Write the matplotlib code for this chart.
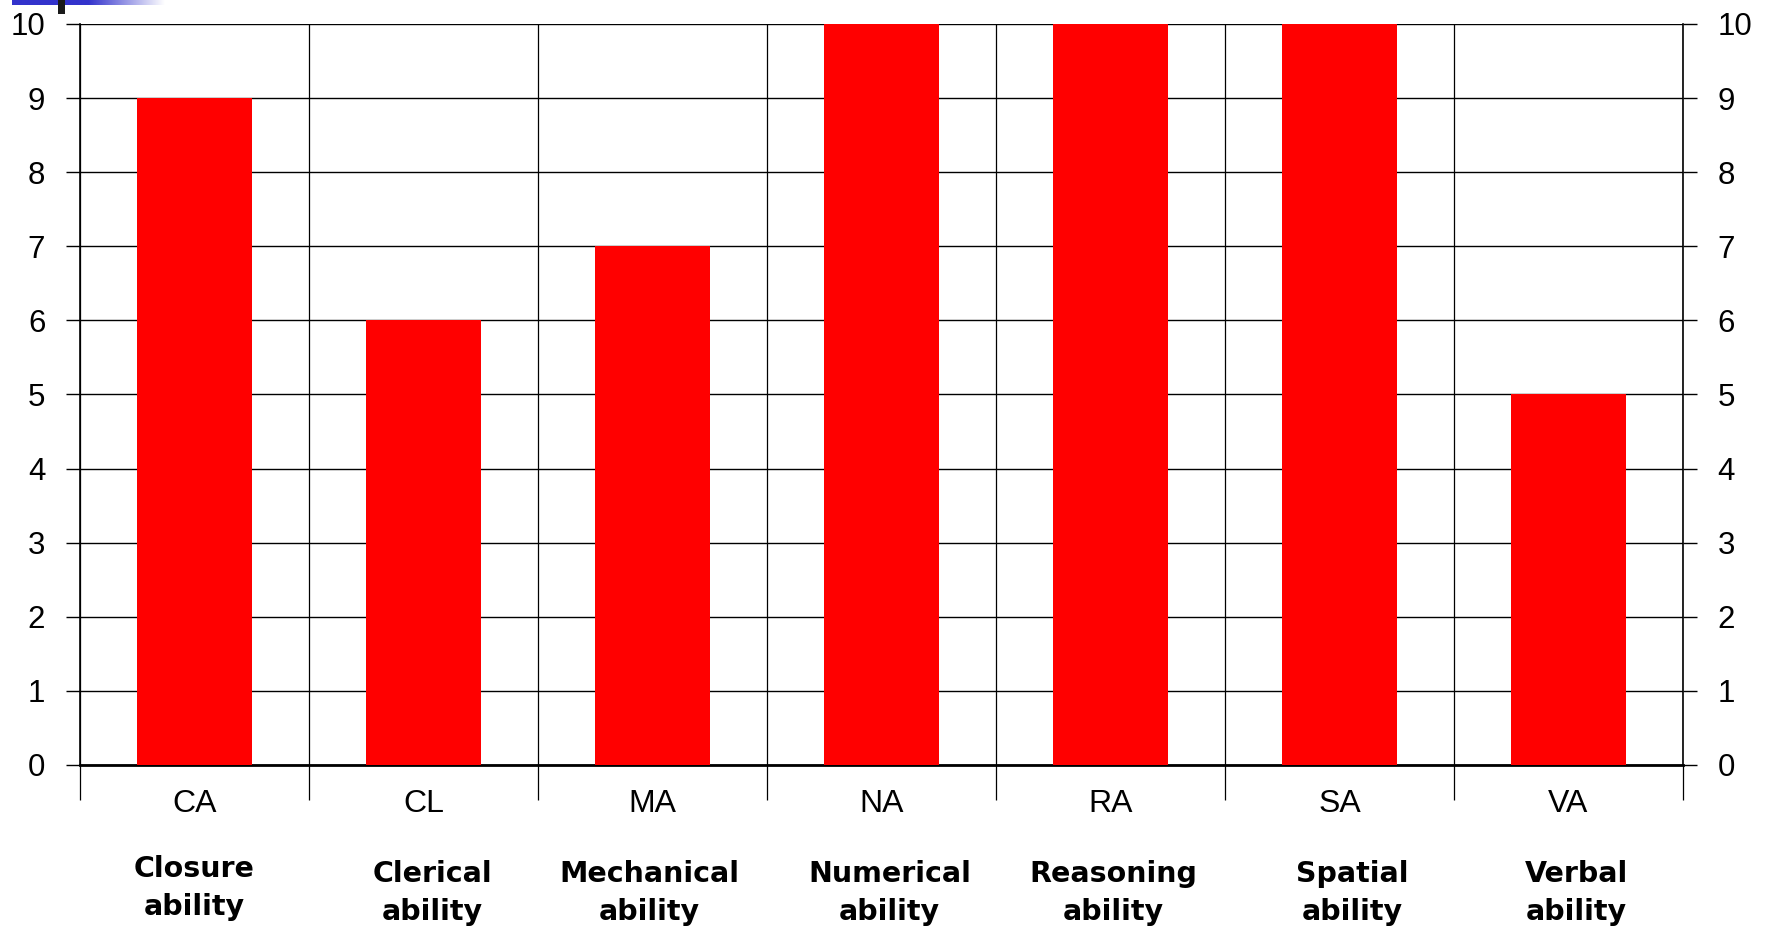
import matplotlib
matplotlib.use("Agg")
import matplotlib.pyplot as plt
import numpy as np
from matplotlib.ticker import FixedLocator
import matplotlib.transforms as mtransforms

codes = ["CA", "CL", "MA", "NA", "RA", "SA", "VA"]
names = ["Closure\nability", "Clerical\nability", "Mechanical\nability",
         "Numerical\nability", "Reasoning\nability", "Spatial\nability", "Verbal\nability"]
scores = [9, 6, 7, 10, 10, 10, 5]
yticks = list(range(0, 11))

W, H = 1767, 927
fig = plt.figure(figsize=(W / 100, H / 100), dpi=100)
ax = fig.add_axes([80 / W, 1 - 765 / H, (1683 - 80) / W, (765 - 24) / H])

x = np.arange(len(codes))
ax.bar(x, scores, width=0.5, color="#ff0000", zorder=3)
ax.set_xlim(-0.5, len(codes) - 0.5)
ax.set_ylim(0, 10)

# gridlines
ax.set_yticks(yticks)
ax.yaxis.grid(True, color="black", linewidth=1.0, zorder=1)
bounds = np.arange(-0.5, len(codes), 1.0)
ax.xaxis.set_minor_locator(FixedLocator(bounds))
ax.xaxis.grid(True, which="minor", color="black", linewidth=0.9, zorder=1)
ax.set_axisbelow(True)

ax.set_xticks(x)
ax.set_xticklabels(codes, fontsize=23, family="Liberation Sans")
ax.tick_params(axis="x", which="major", length=0, pad=17)
ax.tick_params(axis="x", which="minor", length=25, width=0.9, color="black")
ax.tick_params(axis="y", length=10, width=1.0, pad=15, labelsize=22.5,
               left=True, right=True, labelleft=True, labelright=True)
for lab in ax.yaxis.get_majorticklabels():
    lab.set_family("Liberation Sans")
for t in ax.yaxis.get_major_ticks():
    t.label2.set_family("Liberation Sans")

for s in ["left", "right"]:
    ax.spines[s].set_linewidth(1.2)
ax.spines["top"].set_visible(False)
ax.spines["bottom"].set_linewidth(2.0)

# bold descriptive names below
x_off_px = [0, 9, -3, 8, 3, 13, 8]
y_top_px = [855, 860, 860, 860, 860, 860, 860]
for xi, nm, dx, yt in zip(x, names, x_off_px, y_top_px):
    tr = mtransforms.blended_transform_factory(ax.transData, fig.transFigure) + \
        mtransforms.ScaledTranslation(dx / 100, 0, fig.dpi_scale_trans)
    ax.text(xi, 1 - yt / H, nm, transform=tr, ha="center", va="top",
            fontsize=20.5, fontweight="bold", family="DejaVu Sans", linespacing=1.45)

# slide decoration at top-left
deco = fig.add_axes([12 / W, 1 - 5 / H, (165 - 12) / W, 5 / H])
grad = np.ones((1, 200, 3))
blue = np.array([0x33, 0x33, 0xcc]) / 255
t = np.linspace(0, 1, 200)
alpha = np.clip((t - 0.5) / 0.5, 0, 1)[:, None]
grad[0] = blue * (1 - alpha) + np.ones(3) * alpha
deco.imshow(grad, aspect="auto", extent=[0, 1, 0, 1])
deco.axis("off")
blk = fig.add_axes([58 / W, 1 - 14 / H, 7 / W, 14 / H])
blk.set_facecolor("#1a1a1a")
blk.set_xticks([]); blk.set_yticks([])
for s in blk.spines.values():
    s.set_visible(False)

fig.savefig("out.png", dpi=100)
